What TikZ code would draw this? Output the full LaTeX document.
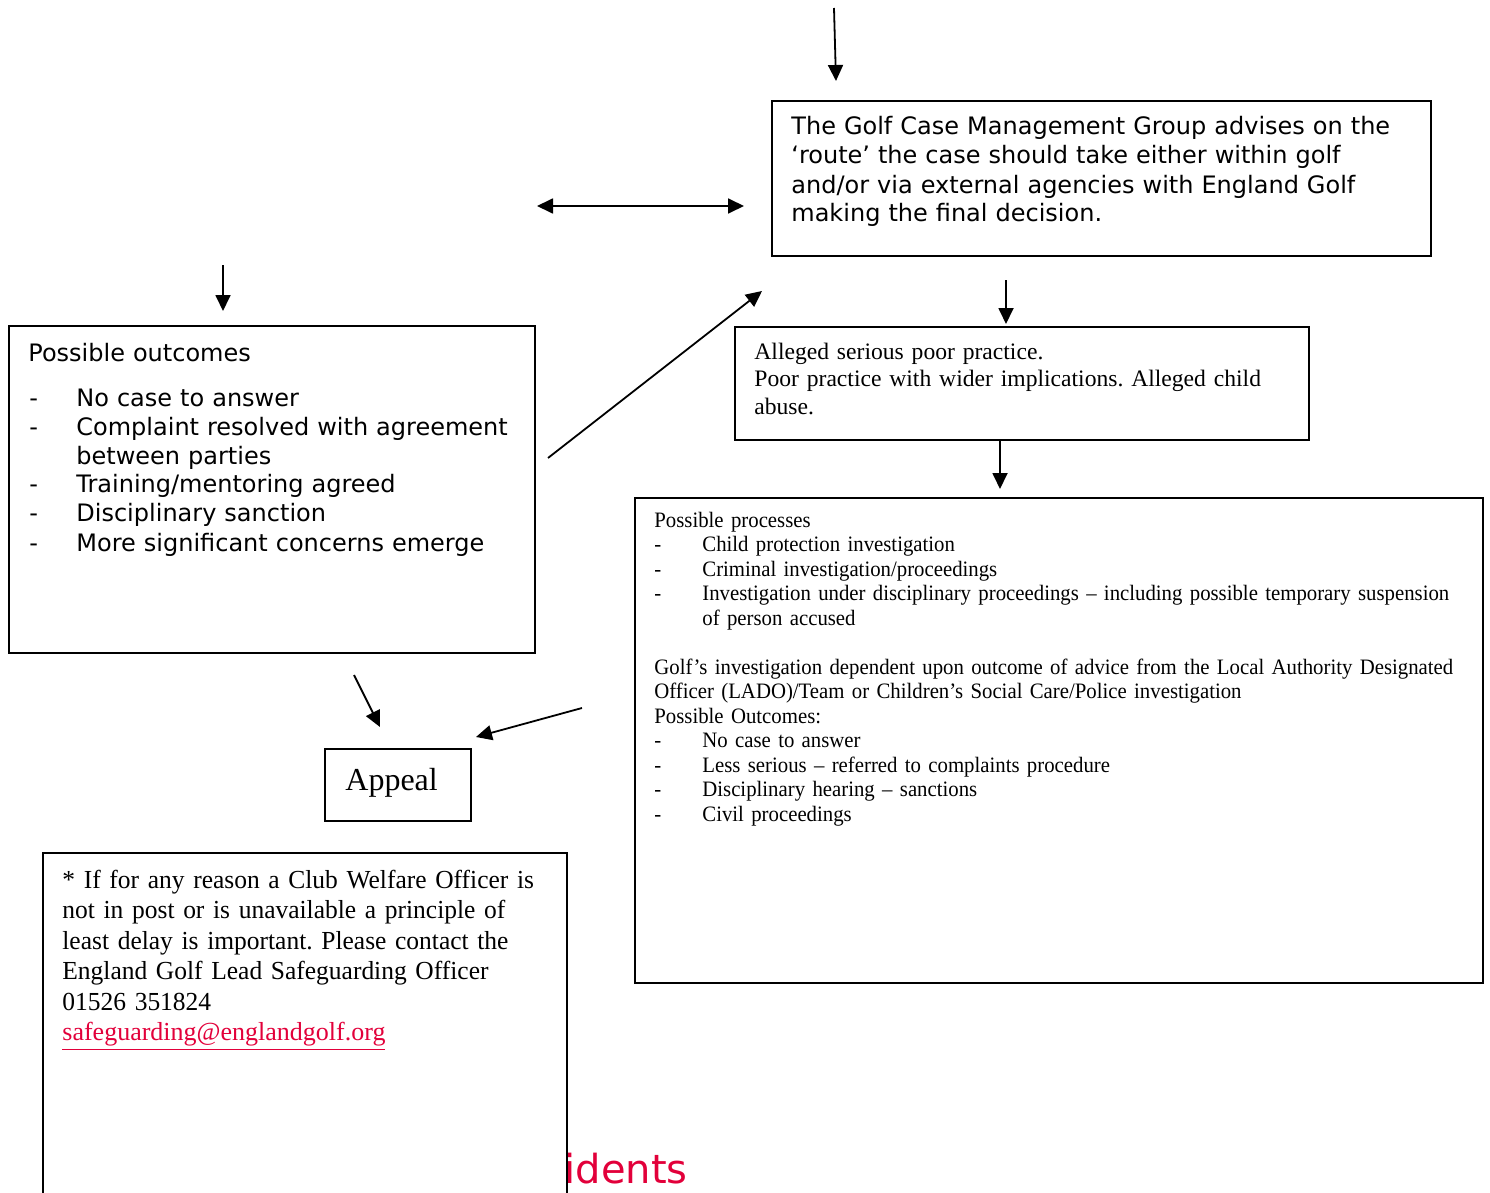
\documentclass[tikz,border=0pt]{standalone}
\usepackage{fontspec}
\setmainfont{Liberation Serif}[Ligatures=TeX]
\newfontfamily\verd{DejaVu Sans}
\newfontfamily\tcond[FakeStretch=0.945]{Liberation Serif}
\newfontfamily\tcondb[FakeStretch=0.98]{Liberation Serif}
\usetikzlibrary{arrows.meta}
\definecolor{egred}{RGB}{226,0,58}
\tikzset{
  box/.style={draw, line width=1pt, inner sep=0pt, anchor=north west},
  txt/.style={inner sep=0pt, anchor=base west, align=left},
  arr/.style={line width=0.9pt, -{Triangle[length=8pt,width=7.5pt]}},
  darr/.style={line width=0.9pt, {Triangle[length=8pt,width=7.5pt]}-{Triangle[length=8pt,width=7.5pt]}},
}
\newcommand{\vitem}{\hspace*{0.5pt}\makebox[23.5pt][l]{-}}
\newcommand{\titem}{\hspace*{0pt}\makebox[24pt][l]{-}}
\begin{document}
\frenchspacing
\begin{tikzpicture}[x=0.5pt,y=-0.5pt]
\useasboundingbox (0,0) rectangle (1490,1193);
% red partial heading
\begin{scope}
\clip (566,1100) rectangle (800,1193);
\node[inner sep=0pt, anchor=base east, text=egred, font=\verd\fontsize{20}{24}\selectfont] (heading) at (688,1183) {cidents};
\end{scope}
% boxes
\node[box, minimum width=329.5pt, minimum height=77.5pt] (golf) at (771,100) {};
\node[box, minimum width=263pt, minimum height=163.5pt] (outc) at (8,325) {};
\node[box, minimum width=287pt, minimum height=56.5pt] (alleg) at (734,326) {};
\node[box, minimum width=424pt, minimum height=242.5pt] (proc) at (634,497) {};
\node[box, minimum width=73pt, minimum height=36pt] (appeal) at (324,748) {};
\node[box, minimum width=262pt, minimum height=174pt] (foot) at (42,852) {};
% texts
\node[txt, text width=320pt, font=\verd\fontsize{12}{14.5}\selectfont] (golftxt) at (791,135)
 {The Golf Case Management Group advises on the\\
  ‘route’ the case should take either within golf\\
  and/or via external agencies with England Golf\\
  making the final decision.};
\node[txt, text width=255pt, font=\verd\fontsize{12}{14.5}\selectfont] (outctxt) at (28,361)
 {Possible outcomes\\[8pt]
  \vitem No case to answer\\
  \vitem Complaint resolved with agreement\\
  \hspace*{24pt}between parties\\
  \vitem Training/mentoring agreed\\
  \vitem Disciplinary sanction\\
  \vitem More significant concerns emerge};
\node[txt, text width=280pt, font=\fontsize{11.8}{13.75}\selectfont] (allegtxt) at (754,359)
 {Alleged serious poor practice.\\
  Poor practice with wider implications. Alleged child\\
  abuse.};
\node[txt, text width=418pt, font=\tcond\fontsize{11}{12.25}\selectfont] (proctxt) at (654,527)
 {Possible processes\\
  \titem Child protection investigation\\
  \titem Criminal investigation/proceedings\\
  \titem Investigation under disciplinary proceedings – including possible temporary suspension\\
  \hspace*{24pt}of person accused\\[12.25pt]
  Golf’s investigation dependent upon outcome of advice from the Local Authority Designated\\
  Officer (LADO)/Team or Children’s Social Care/Police investigation\\
  Possible Outcomes:\\
  \titem No case to answer\\
  \titem Less serious – referred to complaints procedure\\
  \titem Disciplinary hearing – sanctions\\
  \titem Civil proceedings};
\node[txt, font=\fontsize{16}{19}\selectfont] (appealtxt) at (345,790) {Appeal};
\node[txt, text width=258pt, font=\tcondb\fontsize{13}{15.25}\selectfont] (foottxt) at (62,888)
 {* If for any reason a Club Welfare Officer is\\
  not in post or is unavailable a principle of\\
  least delay is important. Please contact the\\
  England Golf Lead Safeguarding Officer\\
  01526 351824\\
  \textcolor{egred}{\rmfamily\underline{safeguarding@englandgolf.org}}};
% connectors
\coordinate (a1s) at (834,8);   \coordinate (a1e) at (836,81);
\coordinate (a2s) at (537,206); \coordinate (a2e) at (744,206);
\coordinate (a3s) at (223,265); \coordinate (a3e) at (223,311);
\coordinate (a4s) at (548,458); \coordinate (a4e) at (762,291);
\coordinate (a5s) at (1006,280);\coordinate (a5e) at (1006,324);
\coordinate (a6s) at (1000,441);\coordinate (a6e) at (1000,489);
\coordinate (a7s) at (354,675); \coordinate (a7e) at (380,727);
\coordinate (a8s) at (582,708); \coordinate (a8e) at (476,737);
\draw[arr] (a1s) -- (a1e);
\draw[darr] (a2s) -- (a2e);
\draw[arr] (a3s) -- (a3e);
\draw[arr] (a4s) -- (a4e);
\draw[arr] (a5s) -- (a5e);
\draw[arr] (a6s) -- (a6e);
\draw[arr] (a7s) -- (a7e);
\draw[arr] (a8s) -- (a8e);
\end{tikzpicture}
\end{document}
